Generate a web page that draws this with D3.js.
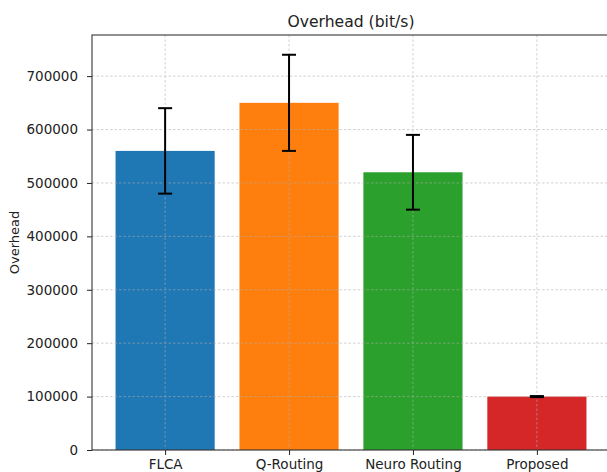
<!DOCTYPE html>
<html><head><meta charset="utf-8">
<script src="https://cdn.jsdelivr.net/npm/d3@7"></script>
<style>body{margin:0;background:#fff}svg{display:block;font-family:"DejaVu Sans",sans-serif}</style>
</head><body>
<svg id="c" width="607" height="472"></svg>
<script>
const categories = ["FLCA", "Q-Routing", "Neuro Routing", "Proposed"];
const values = [560000, 650000, 520000, 100000];
const errors = [80000, 90000, 70000, 1000];
const colors = ["#1f77b4", "#ff7f0e", "#2ca02c", "#d62728"];
const yTicks = [0, 100000, 200000, 300000, 400000, 500000, 600000, 700000];
const title = "Overhead (bit/s)";
const yLabel = "Overhead";

const svg = d3.select("#c");
const L = 92, R = 610, T = 35, B = 450;
const x = d3.scaleLinear().domain([-0.59, 3.59]).range([L, R]);
const y = d3.scaleLinear().domain([0, 777000]).range([B, T]);
const bw = x(0.8) - x(0);

// bars
svg.selectAll("rect.bar").data(values).enter().append("rect")
  .attr("x", (d, i) => x(i) - bw / 2).attr("width", bw)
  .attr("y", d => y(d)).attr("height", d => B - y(d))
  .attr("fill", (d, i) => colors[i]);

// grid
const g = svg.append("g").attr("stroke", "#b0b0b0").attr("stroke-width", 0.8)
  .attr("stroke-dasharray", "2.5,2").attr("opacity", 0.7);
yTicks.forEach(t => g.append("line").attr("x1", L).attr("x2", R).attr("y1", y(t)).attr("y2", y(t)));
categories.forEach((c, i) => g.append("line").attr("x1", x(i)).attr("x2", x(i)).attr("y1", T).attr("y2", B));

// error bars
values.forEach((v, i) => {
  const e = errors[i], cx = x(i);
  svg.append("line").attr("x1", cx).attr("x2", cx).attr("y1", y(v - e)).attr("y2", y(v + e))
    .attr("stroke", "#000").attr("stroke-width", 2);
  [v - e, v + e].forEach(yy => svg.append("line").attr("x1", cx - 7).attr("x2", cx + 7)
    .attr("y1", y(yy)).attr("y2", y(yy)).attr("stroke", "#000").attr("stroke-width", 2));
});

// axes
const ya = svg.append("g").attr("transform", `translate(${L},0)`)
  .call(d3.axisLeft(y).tickValues(yTicks).tickFormat(d3.format("d")).tickSize(5).tickPadding(9));
const xa = svg.append("g").attr("transform", `translate(0,${B})`)
  .call(d3.axisBottom(x).tickValues(d3.range(categories.length)).tickFormat(i => categories[i]).tickSize(5).tickPadding(4));
[ya, xa].forEach(a => {
  a.selectAll("text").attr("font-size", 13.5).attr("fill", "#222").attr("font-family", "DejaVu Sans");
  a.selectAll("line").attr("stroke", "#222");
  a.select(".domain").remove();
});
// spines
svg.append("rect").attr("x", L).attr("y", T).attr("width", R - L).attr("height", B - T)
  .attr("fill", "none").attr("stroke", "#222").attr("stroke-width", 1);

svg.append("text").attr("x", (L + R) / 2).attr("y", 27).attr("text-anchor", "middle")
  .attr("font-size", 15.6).attr("fill", "#222").text(title);
svg.append("text").attr("transform", `translate(19,${(T + B) / 2}) rotate(-90)`)
  .attr("text-anchor", "middle").attr("font-size", 13).attr("fill", "#222").text(yLabel);
</script>
</body></html>
